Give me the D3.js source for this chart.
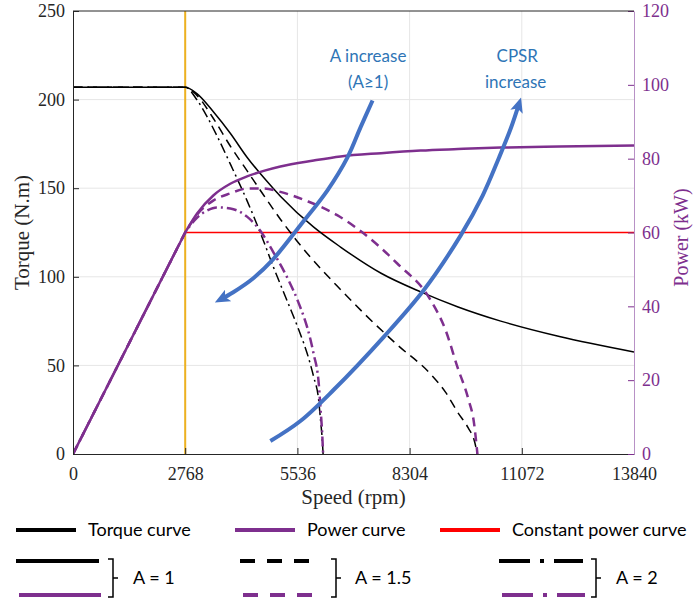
<!DOCTYPE html>
<html>
<head>
<meta charset="utf-8">
<script src="https://cdn.jsdelivr.net/npm/d3@7"></script>
<style>
  body { margin: 0; background: #fff; }
</style>
</head>
<body>
<div id="chart"></div>
<script>
// axis ticks
const speedTicks = [0, 2768, 5536, 8304, 11072, 13840];
const torqueTicks = [0, 50, 100, 150, 200, 250];
const powerTicks = [0, 20, 40, 60, 80, 100, 120];
const baseSpeed = 2768;

// constant power reference (kW)
const constSpeed = [2768, 13840];
const constPower = [60, 60];

// A = 1
const speedA1 = [0, 2768, 3057, 3468, 3880, 4293, 4704, 5116, 5939, 6600, 7600, 8576, 9500, 10553, 12000, 13840];
const torqueA1 = [207, 207, 203.4, 193, 181, 167.5, 156, 145.5, 128, 116.8, 102, 91.5, 83, 75, 66.3, 57.6];
const powerA1 = [0, 60, 65.1, 70.1, 73.2, 75.2, 76.7, 77.9, 79.5, 80.6, 81.5, 82.2, 82.6, 83.0, 83.3, 83.6];

// A = 1.5
const speedA15 = [0, 2768, 3057, 3468, 3880, 4293, 4704, 5116, 5800, 6517, 7176, 8000, 8823, 9194, 9483, 9750, 9894, 9977];
const torqueA15 = [207, 207, 202.4, 189.2, 173.8, 159.9, 146, 132.5, 112.6, 94.8, 79.4, 61.6, 45.1, 34.8, 23.8, 14.7, 8, 0];
const powerA15 = [0, 60, 64.8, 68.7, 70.6, 71.9, 71.9, 71.0, 68.4, 64.7, 59.7, 51.6, 41.7, 33.5, 23.6, 15, 8.3, 0];

// A = 2
const speedA2 = [0, 2768, 3057, 3300, 3551, 3880, 4293, 4650, 4951, 5321, 5527, 5858, 5939, 6063, 6105, 6150, 6170];
const torqueA2 = [207, 207, 199.9, 190.7, 179.6, 163.7, 143, 123.2, 105.1, 84.3, 72.6, 50.5, 43.4, 29.9, 19.6, 7.8, 0];
const powerA2 = [0, 60, 64, 65.9, 66.8, 66.5, 64.3, 60, 54.5, 47, 42, 31, 27, 19, 12.5, 5, 0];

// annotation arrows (rpm, N.m)
const arrowASpeed = [7390, 7093, 6772, 6278, 5610, 4918, 4449, 3954, 3630];
const arrowATorque = [199.5, 184.3, 167.4, 148.8, 129.1, 109.4, 99.2, 91.3, 87.1];
const arrowCSpeed = [4869, 5610, 6426, 7662, 8651, 9565, 10109, 10504, 10801, 11009];
const arrowCTorque = [7.3, 18.6, 36.1, 66.0, 92.4, 123.4, 146.0, 166.9, 183.8, 198];

const legendLabels = ["Torque curve", "Power curve", "Constant power curve"];
const aLabels = ["A = 1", "A = 1.5", "A = 2"];

const black = "#000", purple = "#7E2F8E", red = "#FF0000", orange = "#EDB120", blue = "#4472C4";
const serif = "Liberation Serif, Times New Roman, serif";
const sans = "Lato, Calibri, sans-serif";

const W = 695, H = 605;
const margin = {left: 73, top: 11, right: 61, bottom: 151};
const w = W - margin.left - margin.right;
const h = H - margin.top - margin.bottom;

const svg = d3.select("#chart").append("svg").attr("width", W).attr("height", H);
svg.append("rect").attr("width", W).attr("height", H).attr("fill", "#fff");

const g = svg.append("g").attr("transform", `translate(${margin.left},${margin.top})`);

const x = d3.scaleLinear().domain([0, 13840]).range([0, w]);
const yT = d3.scaleLinear().domain([0, 250]).range([h, 0]);
const yP = d3.scaleLinear().domain([0, 120]).range([h, 0]);

svg.append("defs").append("clipPath").attr("id", "clip")
  .append("rect").attr("width", w).attr("height", h);

// grid
g.selectAll(".vgrid").data(speedTicks.slice(1, -1)).enter().append("line")
  .attr("x1", d => x(d)).attr("x2", d => x(d)).attr("y1", 0).attr("y2", h)
  .attr("stroke", "#e6e6e6").attr("stroke-width", 1);
g.selectAll(".hgrid").data(torqueTicks.slice(1, -1)).enter().append("line")
  .attr("x1", 0).attr("x2", w).attr("y1", d => yT(d)).attr("y2", d => yT(d))
  .attr("stroke", "#e6e6e6").attr("stroke-width", 1);

const plot = g.append("g").attr("clip-path", "url(#clip)");

// base speed line
plot.append("line")
  .attr("x1", x(baseSpeed)).attr("x2", x(baseSpeed)).attr("y1", 0).attr("y2", h)
  .attr("stroke", orange).attr("stroke-width", 2);

// constant power line
plot.append("path")
  .attr("d", d3.line().x((d, i) => x(constSpeed[i])).y(d => yP(d))(constPower))
  .attr("fill", "none").attr("stroke", red).attr("stroke-width", 1.5);

function torqueLine(speeds, vals, dash) {
  const line = d3.line().x((d, i) => x(speeds[i])).y(d => yT(d)).curve(d3.curveMonotoneX);
  plot.append("path").attr("d", line(vals))
    .attr("fill", "none").attr("stroke", black).attr("stroke-width", 1.5)
    .attr("stroke-dasharray", dash);
}

function powerLine(speeds, vals, dash) {
  // straight up to base speed, smooth after it
  const pts = vals.map((v, i) => [x(speeds[i]), yP(v)]);
  const lin = d3.line()(pts.slice(0, 2));
  const crv = d3.line().curve(d3.curveMonotoneX)(pts.slice(1));
  plot.append("path").attr("d", lin + crv.replace(/^M[^CLQ]*/, m => "L" + m.slice(1)))
    .attr("fill", "none").attr("stroke", purple).attr("stroke-width", 2.5)
    .attr("stroke-dasharray", dash);
}

torqueLine(speedA1, torqueA1, null);
torqueLine(speedA15, torqueA15, "9,6");
torqueLine(speedA2, torqueA2, "10,4,2,4");
powerLine(speedA1, powerA1, null);
powerLine(speedA15, powerA15, "9,6");
powerLine(speedA2, powerA2, "10,4,2,4");

// arrows
svg.select("defs").append("marker")
  .attr("id", "head").attr("markerUnits", "userSpaceOnUse")
  .attr("viewBox", "0 0 15 13").attr("markerWidth", 15).attr("markerHeight", 13)
  .attr("refX", 9).attr("refY", 6.5).attr("orient", "auto")
  .append("path").attr("d", "M0,0 L15,6.5 L0,13 L3.5,6.5 Z").attr("fill", blue);

const arrowLine = d3.line().curve(d3.curveCatmullRom.alpha(0.5));
[[arrowASpeed, arrowATorque], [arrowCSpeed, arrowCTorque]].forEach(([s, t]) => {
  g.append("path")
    .attr("d", arrowLine(s.map((v, i) => [x(v), yT(t[i])])))
    .attr("fill", "none").attr("stroke", blue).attr("stroke-width", 4)
    .attr("marker-end", "url(#head)");
});

const note = g.append("g").attr("font-family", sans).attr("font-size", 17)
  .attr("fill", "#2E75B6").attr("text-anchor", "middle");
note.append("text").attr("x", x(7280)).attr("y", 51).text("A increase");
note.append("text").attr("x", x(7280)).attr("y", 77).text("(A\u22651)");
note.append("text").attr("x", x(10960)).attr("y", 51).text("CPSR");
note.append("text").attr("x", x(10920)).attr("y", 77).text("increase");

// axes
const axB = g.append("g").attr("transform", `translate(0,${h})`)
  .call(d3.axisBottom(x).tickValues(speedTicks).tickFormat(d3.format("d"))
    .tickSize(-6).tickSizeOuter(0).tickPadding(13));
const axL = g.append("g")
  .call(d3.axisLeft(yT).tickValues(torqueTicks).tickSize(-6).tickSizeOuter(0).tickPadding(8));
const axR = g.append("g").attr("transform", `translate(${w},0)`)
  .call(d3.axisRight(yP).tickValues(powerTicks).tickSize(-6).tickSizeOuter(0).tickPadding(8));

[axB, axL, axR].forEach(a => a.selectAll("text")
  .attr("font-family", serif).attr("font-size", 18).attr("fill", "#262626"));
axB.selectAll("line, path").attr("stroke", "#262626");
axL.selectAll("line, path").attr("stroke", "#262626");
axR.select("path").attr("stroke", "#B891C6");
axR.selectAll("line").attr("stroke", purple);
axR.selectAll("text").attr("fill", purple);

g.append("line").attr("x1", 0).attr("x2", w).attr("y1", 0).attr("y2", 0)
  .attr("stroke", "#262626");

// axis titles
g.append("text").attr("x", w / 2).attr("y", h + 50).attr("text-anchor", "middle")
  .attr("font-family", serif).attr("font-size", 21).attr("fill", "#262626").text("Speed (rpm)");
svg.append("text").attr("transform", `translate(29,${margin.top + h / 2}) rotate(-90)`)
  .attr("text-anchor", "middle").attr("font-family", serif).attr("font-size", 21)
  .attr("fill", "#262626").text("Torque (N.m)");
svg.append("text").attr("transform", `translate(688,${margin.top + h / 2 + 5}) rotate(-90)`)
  .attr("text-anchor", "middle").attr("font-family", serif).attr("font-size", 20)
  .attr("fill", purple).text("Power (kW)");

// legend
const lg = svg.append("g").attr("font-family", sans).attr("font-size", 18).attr("fill", "#000");
const row1 = [[16, 76, black, 88], [235, 295, purple, 307], [440, 500, red, 512]];
row1.forEach((r, i) => {
  lg.append("line").attr("x1", r[0]).attr("x2", r[1]).attr("y1", 530).attr("y2", 530)
    .attr("stroke", r[2]).attr("stroke-width", 4);
  lg.append("text").attr("x", r[3]).attr("y", 536).text(legendLabels[i]);
});
const dashes = [null, "15,12", "31,10,4,10"];
const row2 = [[16, 99, 108, 133], [240, 312, 331, 355], [499, 583, 591, 616]];
row2.forEach((r, i) => {
  lg.append("line").attr("x1", r[0]).attr("x2", r[1]).attr("y1", 561).attr("y2", 561)
    .attr("stroke", black).attr("stroke-width", 4).attr("stroke-dasharray", dashes[i]);
  lg.append("line").attr("x1", r[0] + 3).attr("x2", r[1] + 2).attr("y1", 595).attr("y2", 595)
    .attr("stroke", purple).attr("stroke-width", 4).attr("stroke-dasharray", dashes[i]);
  const bx = r[2];
  lg.append("path")
    .attr("d", `M${bx},559 H${bx + 5} V597 H${bx} M${bx + 5},578 H${bx + 10}`)
    .attr("fill", "none").attr("stroke", "#000").attr("stroke-width", 1.5);
  lg.append("text").attr("x", r[3]).attr("y", 584).text(aLabels[i]);
});
</script>
</body>
</html>
